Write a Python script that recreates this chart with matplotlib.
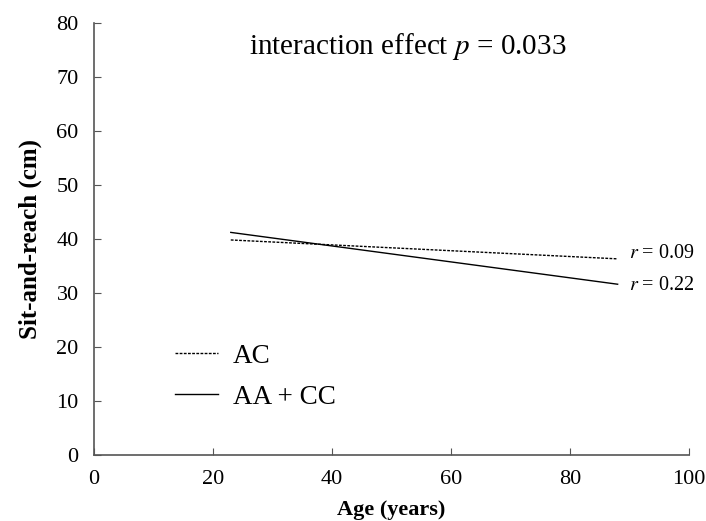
import numpy as np
import matplotlib.pyplot as plt

# regression lines (age in years, sit-and-reach in cm)
age_range = [23, 88]
ac_fit = [39.8, 36.3]
aacc_fit = [41.2, 31.6]
r_labels = ['0.09', '0.22']
x_ticks = [0, 20, 40, 60, 80, 100]
y_ticks = [0, 10, 20, 30, 40, 50, 60, 70, 80]

plt.rcParams['font.family'] = ['Liberation Serif', 'DejaVu Serif']
plt.rcParams['mathtext.fontset'] = 'stix'

fig = plt.figure(figsize=(7.06, 5.21), dpi=100)
ax = fig.add_axes([0.133, 0.127, 0.843, 0.829])

ax.plot(age_range, ac_fit, linestyle=(0, (2, 1)), color='black', linewidth=1.0, label='AC')
ax.plot(age_range, aacc_fit, linestyle='-', color='black', linewidth=1.0, label='AA + CC')

# r labels at the line ends
ax.annotate(r'$r$ = ' + r_labels[0], xy=(age_range[1], ac_fit[1]), xytext=(8, 4),
            textcoords='offset points', ha='left', va='center', fontsize=14.5)
ax.annotate(r'$r$ = ' + r_labels[1], xy=(age_range[1], aacc_fit[1]), xytext=(8, -1),
            textcoords='offset points', ha='left', va='center', fontsize=14.5)

ax.text(0.527, 0.945, r'interaction effect $p$ = 0.033', transform=ax.transAxes,
        ha='center', va='center', fontsize=21)

ax.set_xlim(0, 100)
ax.set_ylim(0, 80)
ax.set_xticks(x_ticks)
ax.set_yticks(y_ticks)
ax.tick_params(direction='in', length=5, color='#555555', labelsize=16, pad=11)
for side in ['top', 'right']:
    ax.spines[side].set_visible(False)
for side in ['left', 'bottom']:
    ax.spines[side].set_color('#555555')
    ax.spines[side].set_linewidth(1.2)

ax.set_xlabel('Age (years)', fontsize=16, fontweight='bold', labelpad=8)
ax.set_ylabel('Sit-and-reach (cm)', fontsize=18, fontweight='bold', labelpad=10)

ax.legend(loc='center left', bbox_to_anchor=(0.095, 0.181), frameon=False, fontsize=19.5,
          handlelength=1.6, handletextpad=0.55, labelspacing=0.6)

fig.savefig('out.png', dpi=100)
